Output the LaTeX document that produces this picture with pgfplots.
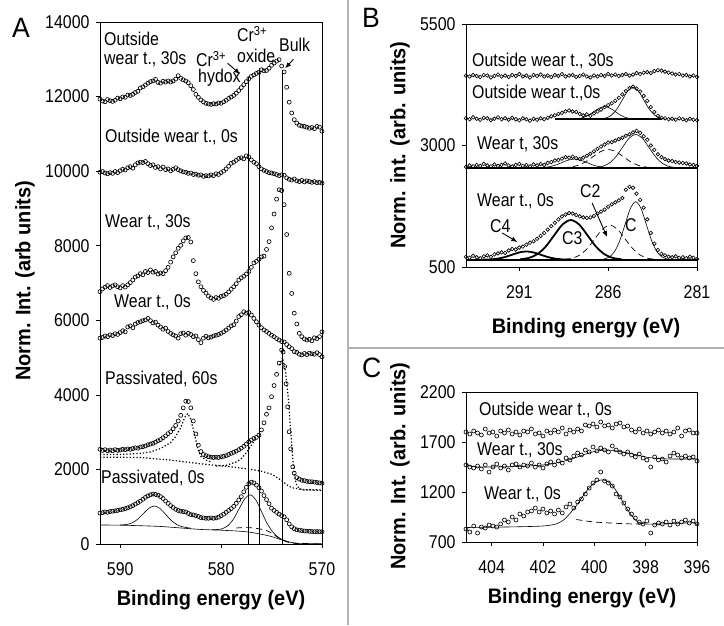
\documentclass[border=0pt]{standalone}
\usepackage{fontspec}
\setmainfont{Liberation Sans}[FakeStretch=0.86]
\newfontfamily\labfont{Liberation Sans}[FakeStretch=0.95]
\usepackage{pgfplots}
\pgfplotsset{compat=1.18}
\usetikzlibrary{arrows.meta}
\newcommand\tfont{\fontsize{18.5}{20}\selectfont}
\newcommand\lfont{\labfont\bfseries\fontsize{21}{23}\selectfont}
\newcommand\pfont{\labfont\fontsize{28}{30}\selectfont}
\pgfplotsset{
 base/.style={scale only axis, anchor=south west, x dir=reverse,
  axis line style={black, line width=0.8pt},
  every tick/.style={black, line width=0.7pt},
  tick align=outside, xtick pos=left, ytick pos=left,
  major tick length=4pt,
  tick label style={font=\tfont},
  xticklabel style={yshift=-11pt},
  yticklabel style={xshift=-3pt},
  /pgf/number format/assume math mode=true,
  /pgf/number format/1000 sep={},
  scaled ticks=false},
 dat/.style={only marks, mark=o, mark size=2pt, mark options={line width=0.65pt}, black},
 fit/.style={black, line width=0.6pt, no marks, smooth},
 thk/.style={black, line width=1.8pt, no marks, smooth},
 dsh/.style={black, line width=0.7pt, no marks, smooth, dash pattern=on 6pt off 4pt},
 dott/.style={black, line width=1.2pt, no marks, dash pattern=on 1.3pt off 2pt},
}
\begin{document}
\begin{tikzpicture}
\useasboundingbox (0,0) rectangle (724pt,625pt);
\fill[white] (0,0) rectangle (724pt,625pt);
\draw[black!30, line width=1.6pt] (348pt,0pt) -- (348pt,625pt);
\draw[black!30, line width=1.6pt] (348pt,277pt) -- (724pt,277pt);

% ---------------- Panel A
\begin{axis}[base, at={(100pt,81pt)}, width=222pt, height=522pt,
  xmin=570, xmax=592, ymin=0, ymax=14000,
  xtick={570,580,590}, ytick={0,2000,4000,6000,8000,10000,12000,14000}]
% Outside wear t., 30s
\addplot[dat] coordinates {(592,11930)(591.75,11880)(591.5,11860)(591.25,11920)(591,11890)(590.75,11870)(590.5,11900)(590.25,11960)(590,11940)(589.75,11990)(589.5,11980)(589.25,12040)(589,12030)(588.75,12060)(588.5,12110)(588.25,12140)(588,12230)(587.75,12260)(587.5,12310)(587.25,12360)(587,12400)(586.75,12420)(586.5,12460)(586.25,12380)(586,12360)(585.75,12410)(585.5,12390)(585.25,12420)(585,12390)(584.75,12420)(584.5,12470)(584.25,12560)(584,12490)(583.75,12450)(583.5,12420)(583.25,12370)(583,12290)(582.75,12190)(582.5,12060)(582.25,11980)(582,11910)(581.75,11860)(581.5,11820)(581.25,11800)(581,11790)(580.75,11810)(580.5,11800)(580.25,11830)(580,11820)(579.75,11860)(579.5,11900)(579.25,11950)(579,11990)(578.75,12030)(578.5,12090)(578.25,12160)(578,12240)(577.75,12320)(577.5,12400)(577.25,12480)(577,12540)(576.75,12580)(576.5,12620)(576.25,12650)(576,12720)(575.75,12690)(575.5,12700)(575.25,12760)(575,12840)(574.75,12900)(574.5,12950)(574.25,12990)(574,12820)(573.75,12660)(573.5,12250)(573.25,11850)(573,11560)(572.75,11380)(572.5,11290)(572.25,11230)(572,11210)(571.75,11200)(571.5,11180)(571.25,11150)(571,11170)(570.75,11140)(570.5,11200)(570.25,11180)(570,11070)};
% Outside wear t., 0s
\addplot[dat] coordinates {(592,9970)(591.75,9990)(591.5,9950)(591.25,9930)(591,9960)(590.75,9940)(590.5,9990)(590.25,9960)(590,10010)(589.75,10050)(589.5,10030)(589.25,10090)(589,10120)(588.75,10080)(588.5,10170)(588.25,10220)(588,10240)(587.75,10230)(587.5,10260)(587.25,10200)(587,10150)(586.75,10170)(586.5,10100)(586.25,10120)(586,10060)(585.75,10110)(585.5,10040)(585.25,10060)(585,10010)(584.75,10050)(584.5,10090)(584.25,10040)(584,10010)(583.75,9980)(583.5,9970)(583.25,9940)(583,9950)(582.75,9910)(582.5,9920)(582.25,9890)(582,9900)(581.75,9860)(581.5,9880)(581.25,9870)(581,9900)(580.75,9880)(580.5,9930)(580.25,9910)(580,9960)(579.75,10000)(579.5,10060)(579.25,10130)(579,10210)(578.75,10240)(578.5,10290)(578.25,10340)(578,10360)(577.75,10330)(577.5,10410)(577.25,10380)(577,10300)(576.75,10240)(576.5,10200)(576.25,10120)(576,10060)(575.75,10020)(575.5,9990)(575.25,9960)(575,9950)(574.75,9930)(574.5,9910)(574.25,9880)(574,9900)(573.75,9890)(573.5,9820)(573.25,9780)(573,9760)(572.75,9790)(572.5,9740)(572.25,9720)(572,9750)(571.75,9710)(571.5,9740)(571.25,9720)(571,9700)(570.75,9720)(570.5,9690)(570.25,9700)(570,9680)};
% Wear t., 30s
\addplot[dat] coordinates {(592,6770)(591.75,6840)(591.5,6890)(591.25,6930)(591,6880)(590.75,6920)(590.5,6950)(590.25,6900)(590,6870)(589.75,6930)(589.5,6890)(589.25,6950)(589,7010)(588.75,7080)(588.5,7160)(588.25,7190)(588,7250)(587.75,7220)(587.5,7310)(587.25,7280)(587,7350)(586.75,7290)(586.5,7310)(586.25,7240)(586,7270)(585.75,7250)(585.5,7330)(585.25,7420)(585,7560)(584.75,7700)(584.5,7810)(584.25,7930)(584,8010)(583.75,8130)(583.5,8210)(583.25,8220)(583,8100)(582.75,7600)(582.5,7250)(582.25,7030)(582,6900)(581.75,6800)(581.5,6730)(581.25,6650)(581,6600)(580.75,6560)(580.5,6610)(580.25,6590)(580,6640)(579.75,6660)(579.5,6700)(579.25,6760)(579,6830)(578.75,6900)(578.5,6980)(578.25,7080)(578,7140)(577.75,7180)(577.5,7240)(577.25,7310)(577,7420)(576.75,7540)(576.5,7580)(576.25,7640)(576,7700)(575.75,7720)(575.5,7900)(575.25,8110)(575,8480)(574.75,8850)(574.5,9250)(574.25,9500)(574,9480)(573.75,9100)(573.5,8300)(573.25,7260)(573,6720)(572.75,6190)(572.5,5900)(572.25,5650)(572,5560)(571.75,5500)(571.5,5470)(571.25,5490)(571,5450)(570.75,5530)(570.5,5510)(570.25,5560)(570,5690)};
% Wear t., 0s
\addplot[dat] coordinates {(592,5520)(591.75,5540)(591.5,5580)(591.25,5560)(591,5610)(590.75,5590)(590.5,5640)(590.25,5620)(590,5670)(589.75,5720)(589.5,5690)(589.25,5820)(589,5850)(588.75,5800)(588.5,5900)(588.25,5940)(588,5960)(587.75,5990)(587.5,6010)(587.25,6050)(587,5990)(586.75,5930)(586.5,5950)(586.25,5870)(586,5820)(585.75,5760)(585.5,5790)(585.25,5700)(585,5650)(584.75,5610)(584.5,5580)(584.25,5520)(584,5640)(583.75,5660)(583.5,5600)(583.25,5650)(583,5620)(582.75,5560)(582.5,5580)(582.25,5480)(582,5400)(581.75,5520)(581.5,5570)(581.25,5530)(581,5550)(580.75,5580)(580.5,5600)(580.25,5620)(580,5650)(579.75,5690)(579.5,5740)(579.25,5790)(579,5850)(578.75,5880)(578.5,5980)(578.25,6100)(578,6150)(577.75,6230)(577.5,6190)(577.25,6210)(577,6140)(576.75,6050)(576.5,5960)(576.25,5870)(576,5800)(575.75,5740)(575.5,5700)(575.25,5650)(575,5600)(574.75,5560)(574.5,5510)(574.25,5470)(574,5430)(573.75,5420)(573.5,5350)(573.25,5290)(573,5240)(572.75,5160)(572.5,5140)(572.25,5090)(572,5070)(571.75,5110)(571.5,5080)(571.25,5120)(571,5100)(570.75,5090)(570.5,5130)(570.25,5080)(570,5020)};
% Passivated, 60s fits
\addplot[dott] coordinates {(592,2330)(588,2320)(585,2250)(582,2150)(579,2070)(577,2000)(576,1950)(575,1870)(574.5,1790)(574,1700)(573.5,1590)(573,1510)(572,1460)(570,1450)};
\addplot[dott] coordinates {(592,2400)(590,2400)(588,2430)(587,2470)(586,2560)(585,2720)(584.5,2880)(584,3120)(583.6,3400)(583.3,3500)(583,3350)(582.6,2900)(582.3,2550)(582,2350)(581.5,2250)(581,2200)};
\addplot[dott] coordinates {(580.5,2090)(579.5,2110)(578.5,2200)(578,2290)(577.5,2450)(577,2650)(576.5,2850)};
\addplot[dott] coordinates {(574.2,4800)(573.9,5000)(573.6,4600)(573.3,3800)(573.1,3000)(572.9,2300)(572.7,1800)(572.5,1560)(572.2,1480)(571.8,1450)(570,1440)};
% Passivated, 60s
\addplot[dat] coordinates {(592,2540)(591.75,2510)(591.5,2530)(591.25,2500)(591,2520)(590.75,2500)(590.5,2530)(590.25,2510)(590,2520)(589.75,2540)(589.5,2530)(589.25,2550)(589,2540)(588.75,2560)(588.5,2580)(588.25,2570)(588,2600)(587.75,2610)(587.5,2630)(587.25,2660)(587,2680)(586.75,2700)(586.5,2730)(586.25,2770)(586,2800)(585.75,2850)(585.5,2900)(585.25,2960)(585,3010)(584.75,3090)(584.5,3180)(584.25,3300)(584,3450)(583.75,3650)(583.5,3830)(583.25,3820)(583,3650)(582.75,3300)(582.5,2950)(582.25,2650)(582,2480)(581.75,2400)(581.5,2370)(581.25,2340)(581,2330)(580.75,2320)(580.5,2330)(580.25,2320)(580,2340)(579.75,2350)(579.5,2370)(579.25,2400)(579,2430)(578.75,2460)(578.5,2490)(578.25,2530)(578,2570)(577.75,2620)(577.5,2680)(577.25,2740)(577,2790)(576.75,2830)(576.5,2860)(576.25,2920)(576,3060)(575.75,3250)(575.5,3480)(575.25,3650)(575,3950)(574.75,4250)(574.5,4550)(574.25,4850)(574,5200)(573.85,5150)(573.7,4760)(573.55,4300)(573.4,3680)(573.25,3010)(573.1,2550)(572.9,2070)(572.75,1900)(572.5,1780)(572.25,1740)(572,1710)(571.75,1700)(571.5,1680)(571.25,1670)(571,1670)(570.75,1660)(570.5,1650)(570.25,1640)(570,1630)};
% Passivated, 0s fits
\addplot[fit] coordinates {(592,510)(590,505)(588,490)(586,470)(584,430)(582,390)(580,370)(578,340)(577,310)(576,260)(575,200)(574,110)(573,40)(572,15)(570,10)};
\addplot[fit] coordinates {(590,508)(589.9,511)(589.35,524)(588.8,569)(588.25,667)(587.7,816)(587.15,961)(586.6,1020)(586.05,951)(585.5,796)(584.95,635)(584.4,524)(583.85,464)(583.3,436)(583,425)};
\addplot[fit] coordinates {(580.95,382)(580.4,386)(579.85,414)(579.3,497)(578.75,678)(578.2,953)(577.65,1216)(577.1,1320)(576.55,1181)(576,873)(575.45,558)(574.9,327)(574.35,184)(573.8,101)(573.25,47)};
\addplot[dsh] coordinates {(578.5,430)(577.5,440)(576.5,420)(575.5,360)(575,290)(574.5,200)(574,120)(573.5,60)(573,25)(572,5)(570,0)};
% Passivated, 0s
\addplot[dat] coordinates {(592,830)(591.75,840)(591.5,860)(591.25,850)(591,870)(590.75,880)(590.5,890)(590.25,900)(590,915)(589.75,930)(589.5,950)(589.25,970)(589,1000)(588.75,1030)(588.5,1070)(588.25,1110)(588,1150)(587.75,1200)(587.5,1250)(587.25,1290)(587,1320)(586.75,1340)(586.5,1330)(586.25,1310)(586,1270)(585.75,1220)(585.5,1150)(585.25,1090)(585,1030)(584.75,980)(584.5,930)(584.25,900)(584,880)(583.75,870)(583.5,860)(583.25,820)(583,790)(582.75,780)(582.5,760)(582.25,740)(582,710)(581.75,700)(581.5,690)(581.25,690)(581,700)(580.75,690)(580.5,700)(580.25,720)(580,760)(579.75,800)(579.5,850)(579.25,900)(579,950)(578.75,1010)(578.5,1090)(578.25,1180)(578,1270)(577.75,1400)(577.5,1520)(577.25,1620)(577,1660)(576.75,1640)(576.5,1580)(576.25,1510)(576,1420)(575.75,1300)(575.5,1190)(575.25,1080)(575,960)(574.75,900)(574.5,850)(574.25,800)(574,760)(573.75,730)(573.5,650)(573.25,540)(573,460)(572.75,410)(572.5,380)(572.25,370)(572,360)(571.75,350)(571.5,345)(571.25,340)(571,335)(570.75,330)(570.5,335)(570.25,330)(570,330)};
% marker lines
\draw[line width=0.8pt] (axis cs:577.3,0) -- (axis cs:577.3,12525);
\draw[line width=0.8pt] (axis cs:576.17,0) -- (axis cs:576.17,12760);
\draw[line width=0.8pt] (axis cs:573.92,0) -- (axis cs:573.92,12713);
\draw[line width=0.9pt, -{Latex[length=6pt,width=5pt]}] (axis cs:579.35,12893) -- (axis cs:578.13,12606);
\draw[line width=0.9pt, -{Latex[length=6pt,width=5pt]}] (axis cs:572.83,13000) -- (axis cs:573.65,12758);
\end{axis}

% ---------------- Panel B
\begin{axis}[base, at={(466pt,358pt)}, width=231pt, height=243pt,
  xmin=281, xmax=294, ymin=500, ymax=5500,
  xtick={281,286,291}, ytick={500,3000,5500}]
\addplot[dat, mark size=1.8pt] coordinates {(294,4440)(293.8,4420)(293.6,4450)(293.4,4430)(293.2,4410)(293,4450)(292.8,4440)(292.6,4400)(292.4,4430)(292.2,4460)(292,4420)(291.8,4440)(291.6,4410)(291.4,4450)(291.2,4430)(291,4470)(290.8,4420)(290.6,4440)(290.4,4400)(290.2,4450)(290,4430)(289.8,4460)(289.6,4420)(289.4,4440)(289.2,4410)(289,4450)(288.8,4430)(288.6,4470)(288.4,4420)(288.2,4440)(288,4450)(287.8,4410)(287.6,4430)(287.4,4460)(287.2,4420)(287,4400)(286.8,4440)(286.6,4420)(286.4,4450)(286.2,4430)(286,4470)(285.8,4440)(285.6,4460)(285.4,4430)(285.2,4450)(285,4470)(284.8,4440)(284.6,4460)(284.4,4490)(284.2,4470)(284,4500)(283.8,4510)(283.6,4490)(283.4,4530)(283.2,4550)(283,4540)(282.8,4520)(282.6,4500)(282.4,4480)(282.2,4460)(282,4470)(281.8,4440)(281.6,4450)(281.4,4420)(281.2,4440)(281,4410)};
% B2 fits
\addplot[thk] coordinates {(289,3540)(283,3540)};
\addplot[fit] coordinates {(286.4,3547)(286.1,3569)(285.8,3629)(285.5,3754)(285.2,3940)(284.9,4122)(284.6,4200)(284.3,4122)(284,3940)(283.7,3754)(283.4,3629)(283.1,3569)(282.8,3547)};
\addplot[fit] coordinates {(288,3543)(287.7,3551)(287.4,3575)(287.1,3624)(286.8,3698)(286.5,3769)(286.2,3800)(285.9,3769)(285.6,3698)(285.3,3624)(285,3575)(284.7,3551)(284.4,3543)};
\addplot[dat, mark size=1.8pt] coordinates {(294,3560)(293.8,3540)(293.6,3580)(293.4,3550)(293.2,3530)(293,3570)(292.8,3560)(292.6,3520)(292.4,3550)(292.2,3580)(292,3540)(291.8,3560)(291.6,3530)(291.4,3570)(291.2,3540)(291,3520)(290.8,3560)(290.6,3540)(290.4,3510)(290.2,3550)(290,3530)(289.8,3560)(289.6,3540)(289.4,3570)(289.2,3600)(289,3620)(288.8,3650)(288.6,3670)(288.4,3700)(288.2,3720)(288,3700)(287.8,3690)(287.6,3650)(287.4,3620)(287.2,3640)(287,3610)(286.8,3660)(286.6,3700)(286.4,3740)(286.2,3790)(286,3830)(285.8,3870)(285.6,3920)(285.4,3980)(285.2,4050)(285,4120)(284.8,4180)(284.6,4210)(284.4,4170)(284.2,4110)(284,4020)(283.8,3920)(283.6,3790)(283.4,3690)(283.2,3610)(283,3570)(282.8,3560)(282.6,3540)(282.4,3550)(282.2,3530)(282,3560)(281.8,3540)(281.6,3520)(281.4,3550)(281.2,3530)(281,3520)};
% B3 fits
\addplot[thk] coordinates {(294,2540)(281,2540)};
\addplot[fit] coordinates {(286.7,2548)(286.325,2570)(285.95,2633)(285.575,2764)(285.2,2958)(284.825,3149)(284.45,3230)(284.075,3149)(283.7,2958)(283.325,2764)(282.95,2633)(282.575,2570)(282.2,2548)};
\addplot[dsh] coordinates {(288.55,2544)(288.125,2557)(287.7,2591)(287.275,2663)(286.85,2770)(286.425,2875)(286,2920)(285.575,2875)(285.15,2770)(284.725,2663)(284.3,2591)(283.875,2557)(283.45,2544)};
\addplot[fit] coordinates {(290,2542)(289.65,2548)(289.3,2564)(288.95,2598)(288.6,2649)(288.25,2699)(287.9,2720)(287.55,2699)(287.2,2649)(286.85,2598)(286.5,2564)(286.15,2548)(285.8,2542)};
\addplot[dat, mark size=1.8pt] coordinates {(294,2560)(293.8,2590)(293.6,2570)(293.4,2600)(293.2,2580)(293,2620)(292.8,2590)(292.6,2570)(292.4,2610)(292.2,2580)(292,2600)(291.8,2630)(291.6,2590)(291.4,2570)(291.2,2600)(291,2620)(290.8,2580)(290.6,2600)(290.4,2570)(290.2,2610)(290,2590)(289.8,2620)(289.6,2600)(289.4,2640)(289.2,2660)(289,2690)(288.8,2700)(288.6,2730)(288.4,2760)(288.2,2750)(288,2770)(287.8,2740)(287.6,2720)(287.4,2750)(287.2,2790)(287,2830)(286.8,2880)(286.6,2930)(286.4,2980)(286.2,3020)(286,3060)(285.8,3070)(285.6,3100)(285.4,3130)(285.2,3160)(285,3200)(284.8,3230)(284.6,3270)(284.4,3300)(284.2,3260)(284,3190)(283.8,3120)(283.6,3000)(283.4,2910)(283.2,2820)(283,2760)(282.8,2720)(282.6,2690)(282.4,2680)(282.2,2660)(282,2650)(281.8,2640)(281.6,2630)(281.4,2610)(281.2,2600)(281,2580)};
% B4 fits
\addplot[thk] coordinates {(294,650)(281,650)};
\addplot[thk] coordinates {(293,652)(292.6,657)(292.2,673)(291.8,705)(291.4,753)(291,800)(290.6,820)(290.2,800)(289.8,753)(289.4,705)(289,673)(288.6,657)(288.2,652)};
\addplot[thk] coordinates {(290.95,659)(290.475,686)(290,761)(289.525,915)(289.05,1146)(288.575,1371)(288.1,1467)(287.625,1371)(287.15,1146)(286.675,915)(286.2,761)(285.725,686)(285.25,659)};
\addplot[dsh] coordinates {(288.45,658)(288.025,681)(287.6,746)(287.175,881)(286.75,1081)(286.325,1277)(285.9,1360)(285.475,1277)(285.05,1081)(284.625,881)(284.2,746)(283.775,681)(283.35,658)};
\addplot[fit] coordinates {(286.25,663)(285.95,702)(285.65,812)(285.35,1038)(285.05,1374)(284.75,1704)(284.45,1844)(284.15,1704)(283.85,1374)(283.55,1038)(283.25,812)(282.95,702)(282.65,663)};
\addplot[dat, mark size=1.8pt] coordinates {(294,710)(293.8,690)(293.6,730)(293.4,700)(293.2,680)(293,720)(292.8,740)(292.6,710)(292.4,760)(292.2,780)(292,800)(291.8,790)(291.6,840)(291.4,870)(291.2,860)(291,900)(290.8,920)(290.6,960)(290.4,1000)(290.2,1030)(290,1080)(289.8,1140)(289.6,1200)(289.4,1270)(289.2,1340)(289,1410)(288.8,1480)(288.6,1540)(288.4,1580)(288.2,1610)(288,1600)(287.8,1570)(287.6,1540)(287.4,1520)(287.2,1510)(287,1520)(286.8,1550)(286.6,1600)(286.4,1640)(286.2,1680)(286,1740)(285.8,1790)(285.6,1830)(285.4,1870)(285.2,1920)(285,2090)(284.8,2150)(284.6,2130)(284.4,2010)(284.2,1880)(284,1720)(283.8,1480)(283.6,1200)(283.4,980)(283.2,850)(283,770)(282.8,740)(282.6,710)(282.4,700)(282.2,720)(282,690)(281.8,700)(281.6,680)(281.4,710)(281.2,690)(281,660)};
\draw[line width=0.9pt, -{Latex[length=6pt,width=5pt]}] (axis cs:291.96,1200) -- (axis cs:291.11,1014);
\draw[line width=0.9pt, -{Latex[length=6pt,width=5pt]}] (axis cs:286.9,1817) -- (axis cs:286.06,1117);
\end{axis}

% ---------------- Panel C
\begin{axis}[base, at={(466pt,83pt)}, width=231pt, height=150pt,
  xmin=396, xmax=405, ymin=700, ymax=2200,
  xtick={396,398,400,402,404}, ytick={700,1200,1700,2200}]
\addplot[dat] coordinates {(405,1800)(404.85,1780)(404.7,1810)(404.55,1790)(404.4,1770)(404.25,1830)(404.1,1790)(403.95,1800)(403.8,1760)(403.65,1810)(403.5,1790)(403.35,1820)(403.2,1780)(403.05,1800)(402.9,1770)(402.75,1810)(402.6,1800)(402.45,1830)(402.3,1780)(402.15,1790)(402,1760)(401.85,1810)(401.7,1790)(401.55,1820)(401.4,1800)(401.25,1840)(401.1,1780)(400.95,1820)(400.8,1800)(400.65,1830)(400.5,1810)(400.35,1870)(400.2,1860)(400.05,1880)(399.9,1850)(399.75,1900)(399.6,1860)(399.45,1870)(399.3,1840)(399.15,1880)(399,1890)(398.85,1850)(398.7,1860)(398.55,1820)(398.4,1800)(398.25,1830)(398.1,1790)(397.95,1810)(397.8,1780)(397.65,1800)(397.5,1820)(397.35,1790)(397.2,1810)(397.05,1780)(396.9,1800)(396.75,1840)(396.6,1760)(396.45,1810)(396.3,1820)(396.15,1790)(396,1790)};
\addplot[fit] coordinates {(405,1490)(404.85,1460)(404.5,1450)(404,1450)(403,1455)(402,1470)(401.5,1490)(401,1520)(400.5,1565)(400,1605)(399.5,1620)(399,1605)(398.5,1580)(398,1550)(397.5,1535)(397,1530)(396.5,1530)(396,1530)};
\addplot[dat] coordinates {(405,1470)(404.85,1450)(404.7,1440)(404.55,1460)(404.4,1430)(404.25,1470)(404.1,1400)(403.95,1450)(403.8,1480)(403.65,1440)(403.5,1460)(403.35,1420)(403.2,1470)(403.05,1480)(402.9,1450)(402.75,1470)(402.6,1460)(402.45,1490)(402.3,1450)(402.15,1470)(402,1440)(401.85,1480)(401.7,1500)(401.55,1470)(401.4,1510)(401.25,1490)(401.1,1540)(400.95,1520)(400.8,1560)(400.65,1590)(400.5,1570)(400.35,1620)(400.2,1600)(400.05,1650)(399.9,1610)(399.75,1640)(399.6,1620)(399.45,1600)(399.3,1660)(399.15,1620)(399,1600)(398.85,1580)(398.7,1600)(398.55,1570)(398.4,1550)(398.25,1580)(398.1,1540)(397.95,1520)(397.8,1450)(397.65,1550)(397.5,1520)(397.35,1530)(397.2,1500)(397.05,1560)(396.9,1590)(396.75,1570)(396.6,1540)(396.45,1560)(396.3,1540)(396.15,1550)(396,1510)};
\addplot[fit] coordinates {(405,845)(404,848)(403,852)(402,860)(401.5,880)(401.2,920)(400.9,1000)(400.6,1100)(400.3,1210)(400,1290)(399.75,1320)(399.5,1310)(399.25,1250)(399,1150)(398.75,1040)(398.5,950)(398.3,900)(398,880)(397.5,880)(397,885)(396.5,890)(396.1,890)(396,870)};
\addplot[dsh] coordinates {(400.7,925)(400,900)(399,885)(398.2,878)};
\addplot[dat] coordinates {(405,830)(404.85,800)(404.7,860)(404.55,790)(404.4,850)(404.25,840)(404.1,870)(403.95,860)(403.8,850)(403.65,880)(403.5,920)(403.35,900)(403.2,950)(403.05,920)(402.9,980)(402.75,960)(402.6,1000)(402.45,1010)(402.3,1040)(402.15,1000)(402,1030)(401.85,990)(401.7,1010)(401.55,980)(401.4,1020)(401.25,990)(401.1,1050)(400.95,1080)(400.8,1040)(400.65,1100)(400.5,1130)(400.35,1180)(400.2,1240)(400.05,1290)(399.9,1320)(399.75,1400)(399.6,1310)(399.45,1290)(399.3,1260)(399.15,1180)(399,1150)(398.85,1090)(398.7,1030)(398.55,980)(398.4,940)(398.25,900)(398.1,880)(397.95,910)(397.8,790)(397.65,870)(397.5,890)(397.35,880)(397.2,900)(397.05,870)(396.9,910)(396.75,880)(396.6,900)(396.45,920)(396.3,890)(396.15,910)(396,880)};
\end{axis}

% ---------------- texts
\node[anchor=base west, inner sep=0pt, font=\pfont] at (12pt,587pt) {A};
\node[anchor=base west, inner sep=0pt, font=\pfont] at (362pt,597pt) {B};
\node[anchor=base west, inner sep=0pt, font=\pfont] at (362pt,247pt) {C};

\node[rotate=90, font=\lfont] at (25pt,344pt) {Norm. Int. (arb units)};
\node[font=\lfont] at (211pt,25pt) {Binding energy (eV)};
\node[rotate=90, font=\lfont] at (400pt,480pt) {Norm. int. (arb. units)};
\node[font=\lfont] at (586pt,297pt) {Binding energy (eV)};
\node[rotate=90, font=\lfont] at (400pt,159pt) {Norm. Int. (arb. units)};
\node[font=\lfont] at (582pt,27pt) {Binding energy (eV)};

\begin{scope}[every node/.style={anchor=base west, inner sep=0pt, font=\tfont}]
\node at (104pt,579pt) {Outside};
\node at (104pt,560pt) {wear t., 30s};
\node at (196pt,558pt) {Cr\textsuperscript{3+}};
\node at (198pt,542pt) {hydox};
\node at (237pt,583pt) {Cr\textsuperscript{3+}};
\node at (237pt,562pt) {oxide};
\node at (279pt,573pt) {Bulk};
\node at (105pt,482pt) {Outside wear t., 0s};
\node at (105pt,397pt) {Wear t., 30s};
\node at (114pt,317pt) {Wear t., 0s};
\node at (105pt,240pt) {Passivated, 60s};
\node at (101pt,142pt) {Passivated, 0s};
\node at (472pt,558pt) {Outside wear t., 30s};
\node at (472pt,526pt) {Outside wear t.,0s};
\node at (477pt,475pt) {Wear t, 30s};
\node at (477pt,418pt) {Wear t., 0s};
\node at (490pt,392pt) {C4};
\node at (562pt,380pt) {C3};
\node at (580pt,427pt) {C2};
\node at (625pt,393pt) {C};
\node at (479pt,209pt) {Outside wear t., 0s};
\node at (477pt,169pt) {Wear t., 30s};
\node at (484pt,125pt) {Wear t., 0s};
\end{scope}
\end{tikzpicture}
\end{document}
